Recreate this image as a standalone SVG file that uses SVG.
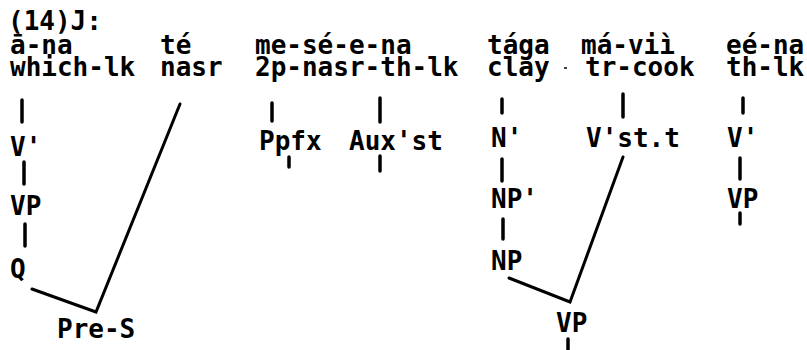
<svg xmlns="http://www.w3.org/2000/svg" width="807" height="350" viewBox="0 0 807 350">
  <style>
    text { font-family: "DejaVu Sans Mono", "Liberation Mono", monospace; font-weight: bold; font-size: 26px; fill: #000; }
    .tick { stroke: #000; stroke-width: 3.5; stroke-linecap: round; fill: none; }
    .branch { stroke: #000; stroke-width: 3; stroke-linecap: round; stroke-linejoin: miter; fill: none; }
  </style>
  <rect width="807" height="350" fill="#fff"/>
  <g id="w-ana"><text x="8" y="30">(14)J:<tspan x="10" y="54">ā-na</tspan><tspan x="10" y="76">which-lk</tspan></text></g>
  <g id="w-te"><text x="160" y="54">té<tspan x="160" y="76">nasr</tspan></text></g>
  <g id="w-mesena"><text x="255" y="54">me-sé-e-na<tspan x="255" y="76">2p-nasr-th-lk</tspan></text></g>
  <g id="w-taga"><text x="487" y="54">tága<tspan x="487" y="76">clay</tspan></text></g>
  <g id="w-mavii"><text x="581" y="54">má-viì<tspan x="585" y="76">tr-cook</tspan></text></g>
  <g id="w-eena"><text x="726" y="54">eé-na<tspan x="726" y="76">th-lk</tspan></text></g>
  <g id="n-vbar1"><text x="10" y="156">V'</text></g>
  <g id="n-vp1"><text x="10" y="215">VP</text></g>
  <g id="n-q"><text x="10" y="278">Q</text></g>
  <g id="n-pres"><text x="57" y="338">Pre-S</text></g>
  <g id="n-ppfx"><text x="259" y="150">Ppfx</text></g>
  <g id="n-auxst"><text x="349" y="150">Aux'st</text></g>
  <g id="n-nbar"><text x="491" y="147">N'</text></g>
  <g id="n-npbar"><text x="491" y="208">NP'</text></g>
  <g id="n-np"><text x="491" y="270">NP</text></g>
  <g id="n-vbarstt"><text x="586" y="147">V'st.t</text></g>
  <g id="n-vp2"><text x="556" y="332">VP</text></g>
  <g id="n-vbar3"><text x="727" y="147">V'</text></g>
  <g id="n-vp3"><text x="727" y="208">VP</text></g>
  <g id="connectors">
    <line class="tick" x1="22" y1="100" x2="22" y2="122"/>
    <line class="tick" x1="24" y1="162" x2="24" y2="184"/>
    <line class="tick" x1="25" y1="224" x2="25" y2="246"/>
    <line class="tick" x1="272" y1="103" x2="272" y2="121"/>
    <line class="tick" x1="380" y1="98" x2="380" y2="122"/>
    <line class="tick" x1="289" y1="157" x2="289" y2="167"/>
    <line class="tick" x1="380" y1="156" x2="380" y2="171"/>
    <line class="tick" x1="502" y1="99" x2="502" y2="113"/>
    <line class="tick" x1="502" y1="159" x2="502" y2="181"/>
    <line class="tick" x1="503" y1="219" x2="503" y2="239"/>
    <line class="tick" x1="623" y1="94" x2="623" y2="117"/>
    <line class="tick" x1="743" y1="98" x2="743" y2="113"/>
    <line class="tick" x1="740" y1="158" x2="740" y2="179"/>
    <line class="tick" x1="740" y1="213" x2="740" y2="224"/>
    <line class="tick" x1="568" y1="339" x2="568" y2="350"/>
    <polyline class="branch" points="32,289 96,312 180,104"/>
    <polyline class="branch" points="509,278 570,302 623,157"/>
    <line x1="564" y1="68" x2="567" y2="68" stroke="#000" stroke-width="1.5"/>
  </g>
</svg>
